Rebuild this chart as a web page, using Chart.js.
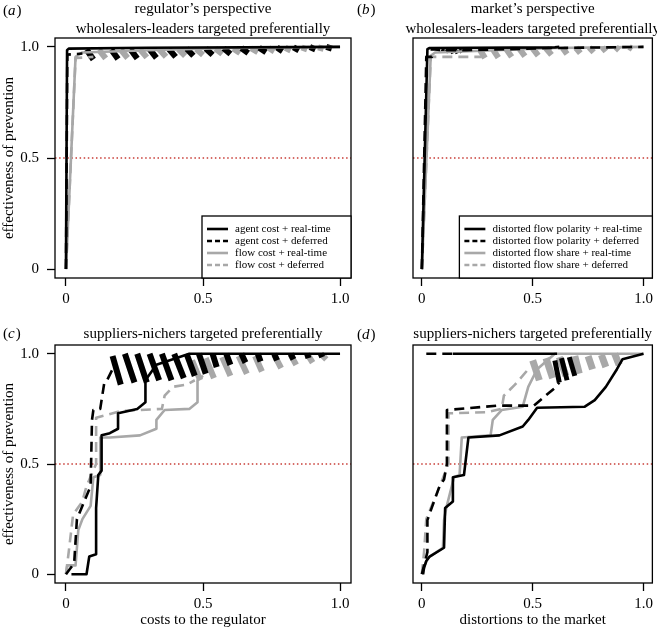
<!DOCTYPE html>
<html lang="en">
<head>
  <meta charset="UTF-8" />
  <title>Effectiveness of prevention</title>
  <script src="https://cdn.jsdelivr.net/npm/chart.js"></script>
  <style>
    body { margin: 0; background: #fff; font-family: 'Liberation Serif', serif; }
    #wrap { position: relative; width: 657px; height: 629px; }
    #wrap canvas { position: absolute; left: 0; top: 0; }
    .warm { position: absolute; left: -999px; top: 0; font-family: 'Liberation Serif'; }
  </style>
</head>
<body>
  <span class="warm">font <i>warm</i></span>
  <div id="wrap">
    <canvas id="panelA" width="657" height="629"></canvas>
    <canvas id="panelB" width="657" height="629"></canvas>
    <canvas id="panelC" width="657" height="629"></canvas>
    <canvas id="panelD" width="657" height="629"></canvas>
  </div>

  <script>
    // axis ticks
    const tickValues = [0, 0.5, 1.0]
    const tickLabels = ['0', '0.5', '1.0']
    const threshold = 0.5

    // (a) regulator, wholesalers-leaders
    const aAgentRtX = [0, 0.004, 0.01, 0.3, 1.0]
    const aAgentRtY = [0, 0.985, 0.992, 0.996, 1.0]
    const aAgentDefX = [0, 0.005, 0.06]
    const aAgentDefY = [0, 0.965, 0.97]
    const aFlowRtX = [0, 0.035, 0.06, 0.3, 0.6, 1.0]
    const aFlowRtY = [0, 0.955, 0.975, 0.985, 0.995, 1.0]
    const aFlowDefX = [0, 0.035, 0.1]
    const aFlowDefY = [0, 0.95, 0.955]
    const aBlackBandX = [0.075, 0.1, 0.165, 0.19, 0.235, 0.26, 0.305, 0.33, 0.375, 0.4, 0.44, 0.465, 0.51, 0.535, 0.575, 0.6, 0.64, 0.665, 0.705, 0.73, 0.77, 0.79, 0.83, 0.85, 0.89, 0.91, 0.95, 0.97]
    const aBlackBandY = [0.988, 0.943, 0.988, 0.945, 0.99, 0.948, 0.99, 0.951, 0.991, 0.955, 0.992, 0.96, 0.993, 0.964, 0.994, 0.968, 0.995, 0.972, 0.996, 0.976, 0.997, 0.98, 0.998, 0.984, 0.999, 0.988, 1.0, 0.992]
    const aGrayBandX = [0.12, 0.145, 0.2, 0.225, 0.27, 0.295, 0.34, 0.365, 0.41, 0.435, 0.475, 0.5, 0.545, 0.57, 0.61, 0.635, 0.675, 0.7, 0.74, 0.76, 0.8, 0.82, 0.86, 0.88, 0.92, 0.94]
    const aGrayBandY = [0.988, 0.948, 0.988, 0.95, 0.989, 0.953, 0.99, 0.956, 0.99, 0.96, 0.991, 0.964, 0.992, 0.968, 0.993, 0.972, 0.994, 0.976, 0.995, 0.98, 0.996, 0.984, 0.997, 0.988, 0.998, 0.991]

    // (b) market, wholesalers-leaders
    const bPolRtX = [0, 0.025, 0.035, 0.6, 0.62]
    const bPolRtY = [0, 0.99, 0.995, 0.998, 1.0]
    const bPolDefX = [0, 0.02, 0.045, 0.045, 0.09, 0.2, 0.6, 1.0]
    const bPolDefY = [0, 0.955, 0.955, 0.99, 0.985, 0.985, 0.995, 1.0]
    const bShareRtX = [0, 0.04, 0.06, 0.6, 1.0]
    const bShareRtY = [0, 0.96, 0.975, 0.995, 1.0]
    const bShareDefX = [0, 0.04, 0.27]
    const bShareDefY = [0, 0.955, 0.955]
    const bBlackBandX = [0.09, 0.1, 0.11, 0.12, 0.13, 0.14, 0.15, 0.16, 0.17, 0.18, 0.19, 0.2]
    const bBlackBandY = [0.99, 0.98, 0.99, 0.975, 0.99, 0.97, 0.99, 0.97, 0.99, 0.975, 0.99, 0.985]
    const bGrayBandX = [0.26, 0.285, 0.32, 0.345, 0.38, 0.405, 0.44, 0.465, 0.5, 0.525, 0.56, 0.585, 0.635, 0.655, 0.695, 0.715, 0.755, 0.775, 0.815, 0.83, 0.875, 0.89, 0.935, 0.95]
    const bGrayBandY = [0.99, 0.95, 0.99, 0.952, 0.991, 0.955, 0.992, 0.958, 0.993, 0.961, 0.994, 0.964, 0.995, 0.968, 0.996, 0.972, 0.997, 0.976, 0.998, 0.98, 0.999, 0.985, 1.0, 0.99]

    // (c) regulator, suppliers-nichers
    const cAgentRtX = [0.02, 0.075, 0.085, 0.11, 0.11, 0.118, 0.13, 0.13, 0.16, 0.19, 0.19, 0.26, 0.29, 0.29, 0.33, 0.45, 1.0]
    const cAgentRtY = [0, 0, 0.08, 0.09, 0.3, 0.45, 0.47, 0.63, 0.64, 0.66, 0.73, 0.75, 0.78, 0.88, 0.95, 1.0, 1.0]
    const cAgentDefX = [0, 0.03, 0.04, 0.05, 0.09, 0.095, 0.1, 0.125, 0.14, 0.15, 0.17]
    const cAgentDefY = [0, 0.05, 0.25, 0.28, 0.4, 0.7, 0.745, 0.75, 0.87, 0.88, 0.93]
    const cFlowRtX = [0, 0.005, 0.035, 0.045, 0.06, 0.09, 0.1, 0.125, 0.125, 0.16, 0.27, 0.33, 0.33, 0.36, 0.45, 0.48, 0.48, 0.5]
    const cFlowRtY = [0, 0.04, 0.04, 0.2, 0.25, 0.31, 0.44, 0.45, 0.62, 0.62, 0.63, 0.66, 0.7, 0.745, 0.75, 0.78, 0.88, 0.9]
    const cFlowDefX = [0, 0.01, 0.026, 0.06, 0.075, 0.11, 0.11, 0.2, 0.27, 0.35, 0.36, 0.39, 0.44, 0.47]
    const cFlowDefY = [0, 0.1, 0.27, 0.33, 0.4, 0.5, 0.71, 0.74, 0.745, 0.75, 0.81, 0.85, 0.86, 0.88]
    const cBlackBandX = [0.17, 0.2, 0.215, 0.25, 0.26, 0.295, 0.305, 0.34, 0.35, 0.385, 0.395, 0.43, 0.44, 0.47, 0.485, 0.51, 0.535, 0.55, 0.585, 0.6, 0.64, 0.655, 0.7, 0.71, 0.76, 0.77, 0.82, 0.83, 0.88, 0.885, 0.93, 0.935]
    const cBlackBandY = [0.99, 0.86, 1.0, 0.87, 1.0, 0.87, 1.0, 0.88, 1.0, 0.88, 1.0, 0.89, 1.0, 0.9, 1.0, 0.91, 1.0, 0.94, 1.0, 0.95, 1.0, 0.96, 1.0, 0.965, 1.0, 0.97, 1.0, 0.975, 1.0, 0.98, 1.0, 0.985]
    const cGrayBandX = [0.46, 0.49, 0.51, 0.54, 0.57, 0.6, 0.63, 0.66, 0.69, 0.715, 0.76, 0.785, 0.82, 0.84, 0.88, 0.9, 0.93, 0.95]
    const cGrayBandY = [0.97, 0.88, 0.98, 0.89, 0.985, 0.9, 0.99, 0.91, 0.99, 0.92, 0.995, 0.935, 0.995, 0.95, 1.0, 0.96, 1.0, 0.975]

    // (d) market, suppliers-nichers (null = break in the line)
    const dPolRtX = [0.14, 0.61, 0.61, 0.005, 0.01, 0.02, 0.035, 0.1, 0.105, 0.14, 0.14, 0.19, 0.21, 0.35, 0.455, 0.48, 0.52, 0.735, 0.78, 0.83, 0.88, 0.905, 1.0]
    const dPolRtY = [1.0, 1.0, null, 0, 0.03, 0.06, 0.08, 0.12, 0.3, 0.33, 0.44, 0.45, 0.62, 0.63, 0.67, 0.7, 0.755, 0.76, 0.79, 0.85, 0.93, 0.975, 1.0]
    const dPolDefX = [0.02, 0.15, 0.15, 0, 0.025, 0.025, 0.044, 0.08, 0.1, 0.113, 0.113, 0.345, 0.505, 0.6, 0.62]
    const dPolDefY = [1.0, 1.0, null, 0, 0.1, 0.245, 0.3, 0.4, 0.43, 0.5, 0.745, 0.765, 0.765, 0.845, 0.87]
    const dShareRtX = [0.005, 0.01, 0.02, 0.035, 0.095, 0.1, 0.11, 0.145, 0.17, 0.18, 0.31, 0.32, 0.36, 0.455, 0.48, 0.52, 0.6, 1.0]
    const dShareRtY = [0, 0.03, 0.06, 0.08, 0.12, 0.245, 0.3, 0.44, 0.45, 0.62, 0.63, 0.7, 0.745, 0.76, 0.85, 0.93, 1.0, 1.0]
    const dShareDefX = [0, 0.01, 0.02, 0.085, 0.12, 0.12, 0.29, 0.36, 0.37, 0.42, 0.48]
    const dShareDefY = [0, 0.1, 0.25, 0.41, 0.5, 0.73, 0.735, 0.75, 0.81, 0.86, 0.93]
    const dBlackBandX = [0.6, 0.62, 0.63, 0.655, 0.665, 0.69]
    const dBlackBandY = [0.97, 0.87, 0.98, 0.88, 0.985, 0.9]
    const dGrayBandX = [0.5, 0.53, 0.56, 0.59, 0.62, 0.65, 0.69, 0.71, 0.75, 0.77, 0.81, 0.83, 0.87, 0.89]
    const dGrayBandY = [0.97, 0.88, 0.98, 0.89, 0.985, 0.9, 0.99, 0.91, 0.99, 0.93, 0.995, 0.94, 1.0, 0.95]

    const FONT = "'Liberation Serif', 'Times New Roman', Times, serif"
    const BLACK = '#000000'
    const GRAY = '#a8a8a8'
    const RED = '#c83c36'
    const AX_MIN = -0.04, AX_MAX = 1.04

    function pts(xs, ys) {
      return xs.map((x, i) => ({ x: x, y: ys[i] }))
    }

    function series(label, xs, ys, color, dashed, order) {
      return {
        label: label, data: pts(xs, ys), borderColor: color, borderWidth: 2.6,
        borderDash: dashed ? [10, 6] : [], borderJoinStyle: 'round',
        pointRadius: 0, fill: false, tension: 0, spanGaps: false, order: order
      }
    }

    // zig-zag part of a deferred curve: only the falling strokes are inked
    function band(xs, ys, color, width) {
      return {
        data: pts(xs, ys), borderColor: color, borderWidth: width, pointRadius: 0,
        fill: false, tension: 0, order: 5,
        segment: { borderColor: c => c.p1.parsed.y > c.p0.parsed.y ? 'rgba(0,0,0,0)' : color }
      }
    }

    function thresholdLine() {
      return {
        data: [{ x: AX_MIN, y: threshold }, { x: AX_MAX, y: threshold }],
        borderColor: RED, borderWidth: 1.6, borderDash: [1.5, 2.6], pointRadius: 0, order: 10
      }
    }

    const panelDecor = {
      id: 'panelDecor',
      afterDraw(chart, args, opts) {
        const { ctx, chartArea: a } = chart
        ctx.save()
        ctx.strokeStyle = '#000'
        ctx.lineWidth = 1.3
        ctx.strokeRect(a.left, a.top, a.right - a.left, a.bottom - a.top)

        ctx.fillStyle = '#000'
        ctx.textBaseline = 'middle'
        ctx.textAlign = 'center'
        ctx.font = `15px ${FONT}`
        const cx = (a.left + a.right) / 2
        opts.title.forEach((t, i) => ctx.fillText(t, cx, opts.titleY[i]))

        // panel letter, e.g. (a)
        ctx.textAlign = 'left'
        let lx = opts.letterX
        ctx.fillText('(', lx, opts.letterY)
        lx += ctx.measureText('(').width
        ctx.font = `italic 15px ${FONT}`
        ctx.fillText(opts.letter, lx, opts.letterY)
        lx += ctx.measureText(opts.letter).width + 1
        ctx.font = `15px ${FONT}`
        ctx.fillText(')', lx, opts.letterY)

        if (opts.legendWidth) {
          const items = chart.data.datasets.filter(d => d.label)
          const w = opts.legendWidth, h = 62
          const x0 = a.right - w, y0 = a.bottom - h
          ctx.fillStyle = '#fff'
          ctx.fillRect(x0, y0, w, h)
          ctx.strokeRect(x0, y0, w, h)
          ctx.font = `11px ${FONT}`
          items.forEach((d, i) => {
            const y = y0 + 13 + i * 12
            ctx.strokeStyle = d.borderColor
            ctx.lineWidth = 2.6
            ctx.setLineDash(d.borderDash.length ? [5, 3] : [])
            ctx.beginPath()
            ctx.moveTo(x0 + 5, y)
            ctx.lineTo(x0 + 26, y)
            ctx.stroke()
            ctx.setLineDash([])
            ctx.fillStyle = '#000'
            ctx.fillText(d.label, x0 + 33, y)
          })
        }
        ctx.restore()
      }
    }

    function makeScales(showY, xTitle) {
      const tickFont = { family: FONT, size: 15 }
      const grid = { drawOnChartArea: false, drawTicks: true, tickLength: 8, color: '#000', tickColor: '#000', tickWidth: 1.3 }
      return {
        x: {
          type: 'linear', min: AX_MIN, max: AX_MAX,
          afterBuildTicks: s => { s.ticks = tickValues.map(v => ({ value: v })) },
          afterFit: s => { s.height = xTitle ? 46 : 30 },
          grid: grid, border: { display: false },
          ticks: { color: '#000', font: tickFont, padding: 4, maxRotation: 0, autoSkip: false,
                   callback: (v, i) => tickLabels[i] },
          title: { display: !!xTitle, text: xTitle, color: '#000', font: tickFont, padding: 0 }
        },
        y: {
          type: 'linear', min: AX_MIN, max: AX_MAX, display: showY,
          afterBuildTicks: s => { s.ticks = tickValues.map(v => ({ value: v })) },
          afterFit: s => { s.width = 55 },
          grid: grid, border: { display: false },
          ticks: { color: '#000', font: tickFont, padding: 8, autoSkip: false,
                   callback: (v, i) => tickLabels[i] },
          title: { display: true, text: 'effectiveness of prevention', color: '#000', font: tickFont, padding: 0 }
        }
      }
    }

    function makeChart(id, datasets, padding, showY, xTitle, decor) {
      return new Chart(document.getElementById(id), {
        type: 'line',
        data: { datasets: datasets },
        options: {
          responsive: false, animation: false, devicePixelRatio: 1, events: [],
          layout: { padding: padding },
          scales: makeScales(showY, xTitle),
          plugins: { legend: { display: false }, tooltip: { enabled: false }, panelDecor: decor }
        },
        plugins: [panelDecor]
      })
    }

    function drawAll() {
      makeChart('panelA', [
        series('agent cost + real-time', aAgentRtX, aAgentRtY, BLACK, false, 0),
        series('agent cost + deferred', aAgentDefX, aAgentDefY, BLACK, true, 1),
        series('flow cost + real-time', aFlowRtX, aFlowRtY, GRAY, false, 2),
        series('flow cost + deferred', aFlowDefX, aFlowDefY, GRAY, true, 3),
        band(aBlackBandX, aBlackBandY, BLACK, 6),
        band(aGrayBandX, aGrayBandY, GRAY, 6),
        thresholdLine()
      ], { left: 0, top: 38, right: 306, bottom: 321 }, true, '', {
        title: ['regulator\u2019s perspective', 'wholesalers-leaders targeted preferentially'],
        titleY: [9, 29], letter: 'a', letterX: 3, letterY: 11, legendWidth: 149
      })

      makeChart('panelB', [
        series('distorted flow polarity + real-time', bPolRtX, bPolRtY, BLACK, false, 0),
        series('distorted flow polarity + deferred', bPolDefX, bPolDefY, BLACK, true, 1),
        series('distorted flow share + real-time', bShareRtX, bShareRtY, GRAY, false, 2),
        series('distorted flow share + deferred', bShareDefX, bShareDefY, GRAY, true, 3),
        band(bBlackBandX, bBlackBandY, BLACK, 3.5),
        band(bGrayBandX, bGrayBandY, GRAY, 6),
        thresholdLine()
      ], { left: 358, top: 38, right: 3, bottom: 321 }, false, '', {
        title: ['market\u2019s perspective', 'wholesalers-leaders targeted preferentially'],
        titleY: [9, 29], letter: 'b', letterX: 357, letterY: 10, legendWidth: 193
      })

      makeChart('panelC', [
        series('agent cost + real-time', cAgentRtX, cAgentRtY, BLACK, false, 0),
        series('agent cost + deferred', cAgentDefX, cAgentDefY, BLACK, true, 1),
        series('flow cost + real-time', cFlowRtX, cFlowRtY, GRAY, false, 2),
        series('flow cost + deferred', cFlowDefX, cFlowDefY, GRAY, true, 3),
        band(cBlackBandX, cBlackBandY, BLACK, 6),
        band(cGrayBandX, cGrayBandY, GRAY, 6),
        thresholdLine()
      ], { left: 0, top: 345, right: 306, bottom: 0 }, true, 'costs to the regulator', {
        title: ['suppliers-nichers targeted preferentially'],
        titleY: [334], letter: 'c', letterX: 3, letterY: 334
      })

      makeChart('panelD', [
        series('distorted flow polarity + real-time', dPolRtX, dPolRtY, BLACK, false, 0),
        series('distorted flow polarity + deferred', dPolDefX, dPolDefY, BLACK, true, 1),
        series('distorted flow share + real-time', dShareRtX, dShareRtY, GRAY, false, 2),
        series('distorted flow share + deferred', dShareDefX, dShareDefY, GRAY, true, 3),
        band(dBlackBandX, dBlackBandY, BLACK, 5),
        band(dGrayBandX, dGrayBandY, GRAY, 7),
        thresholdLine()
      ], { left: 358, top: 345, right: 3, bottom: 0 }, false, 'distortions to the market', {
        title: ['suppliers-nichers targeted preferentially'],
        titleY: [334], letter: 'd', letterX: 357, letterY: 335
      })
    }

    Promise.all([
      document.fonts.load('15px "Liberation Serif"'),
      document.fonts.load('italic 15px "Liberation Serif"')
    ]).then(drawAll, drawAll)
  </script>
</body>
</html>
